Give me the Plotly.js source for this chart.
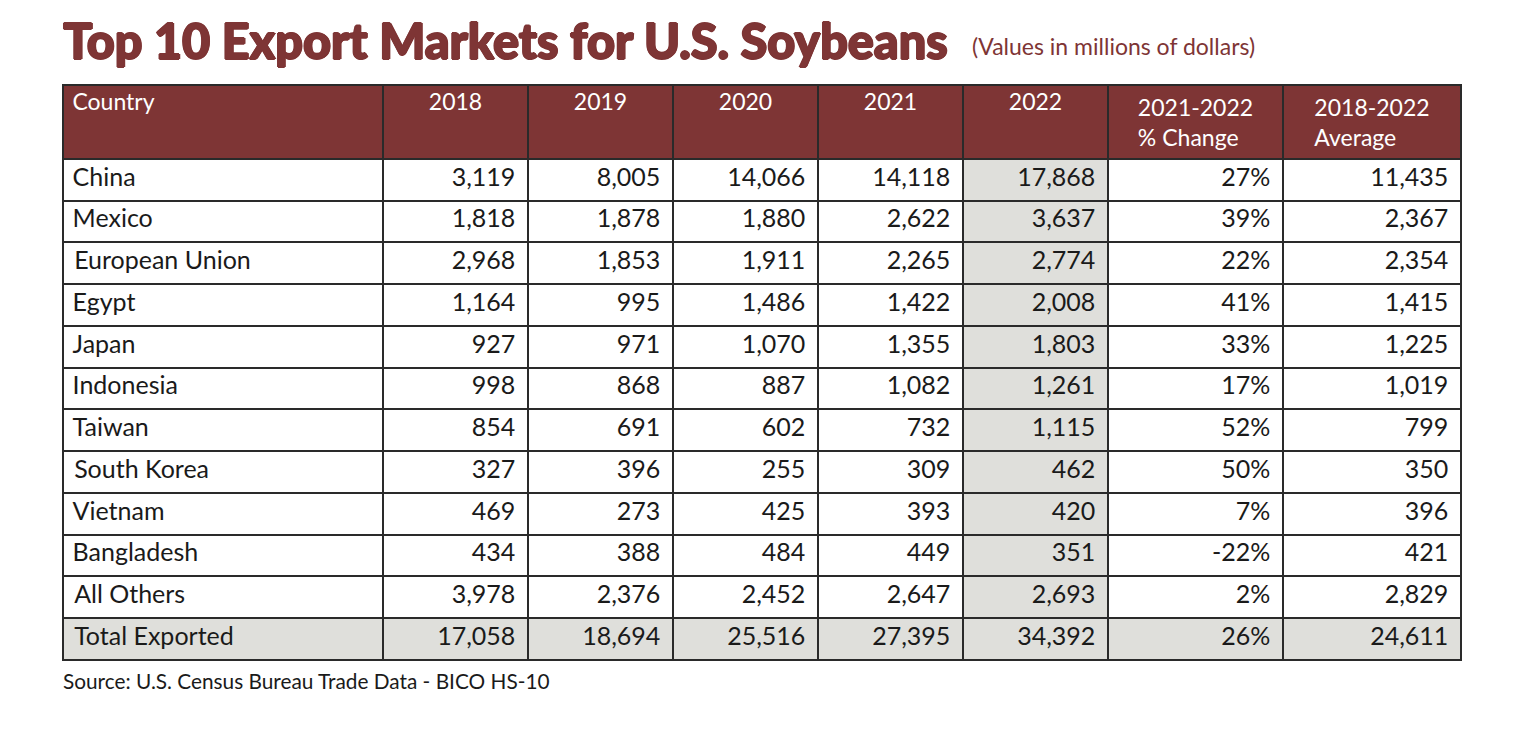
<!DOCTYPE html>
<html><head><meta charset="utf-8">
<script src="https://cdn.plot.ly/plotly-3.0.1.min.js"></script>
<style>html,body{margin:0;padding:0;background:#fff;}#chart{width:1536px;height:739px;}</style>
</head><body><div id="chart"></div>
<script>
const headers = ["Country","2018","2019","2020","2021","2022","2021-2022<br>% Change","2018-2022<br>Average"];
const countries = ["China","Mexico","European Union","Egypt","Japan","Indonesia","Taiwan","South Korea","Vietnam","Bangladesh","All Others","Total Exported"];
const v2018 = [3119,1818,2968,1164,927,998,854,327,469,434,3978,17058];
const v2019 = [8005,1878,1853,995,971,868,691,396,273,388,2376,18694];
const v2020 = [14066,1880,1911,1486,1070,887,602,255,425,484,2452,25516];
const v2021 = [14118,2622,2265,1422,1355,1082,732,309,393,449,2647,27395];
const v2022 = [17868,3637,2774,2008,1803,1261,1115,462,420,351,2693,34392];
const pctChange = [27,39,22,41,33,17,52,50,7,-22,2,26];
const avg1822 = [11435,2367,2354,1415,1225,1019,799,350,396,421,2829,24611];

const maroon = "#7E3535";
const grey = "#DFDFDB";
const n = countries.length;
function colFill(allGrey){ return countries.map((c,i)=> (allGrey || i===n-1) ? grey : "#ffffff"); }
const fills = [colFill(false),colFill(false),colFill(false),colFill(false),colFill(false),colFill(true),colFill(false),colFill(false)];

const W = 1536, H = 739;
const x0 = 63, x1 = 1461;
const colW = [320,145,145,145,145,145,175,178];
const sp = "\u2009\u200A";

const trace = {
  type: "table",
  domain: {x: [x0/W, x1/W], y: [0, 1 - 85/H]},
  columnwidth: colW,
  columnorder: [0,1,2,3,4,5,6,7],
  header: {
    values: headers,
    prefix: ["\u200A","","","","","","",""],
    align: ["left","center","center","center","center","center","center","center"],
    fill: {color: maroon},
    line: {color: "#2a2a2a", width: 2},
    font: {family: "Lato, 'Open Sans', sans-serif", size: 23, color: "#ffffff"},
    height: 72
  },
  cells: {
    values: [countries, v2018, v2019, v2020, v2021, v2022, pctChange, avg1822],
    format: ["", ",", ",", ",", ",", ",", "d", ","],
    prefix: ["\u200A","","","","","","",""],
    suffix: ["", sp, sp, sp, sp, sp, "%" + sp, sp],
    align: ["left","right","right","right","right","right","right","right"],
    fill: {color: fills},
    line: {color: "#2a2a2a", width: 2},
    font: {family: "Lato, 'Open Sans', sans-serif", size: 25, color: "#1a1a1a"},
    height: 41.75
  }
};

const sh = "0.8px 0 0 #7E3535, -0.8px 0 0 #7E3535, 0 0.8px 0 #7E3535, 0 -0.8px 0 #7E3535, 1.2px 0.4px 0 #7E3535";
const layout = {
  width: W, height: H,
  margin: {l: 0, r: 0, t: 0, b: 0},
  paper_bgcolor: "#ffffff",
  showlegend: false,
  annotations: [
    {text: "Top 10 Export Markets for U.S. Soybeans", xref: "paper", yref: "paper",
     x: 61/W, y: 1 - 40/H, xanchor: "left", yanchor: "middle", showarrow: false,
     font: {family: "Lato, 'DejaVu Sans', sans-serif", size: 48.5, color: maroon, weight: 900, shadow: sh}},
    {text: "(Values in millions of dollars)", xref: "paper", yref: "paper",
     x: 970/W, y: 1 - 46/H, xanchor: "left", yanchor: "middle", showarrow: false,
     font: {family: "Lato, sans-serif", size: 23, color: maroon}},
    {text: "Source: U.S. Census Bureau Trade Data - BICO HS-10", xref: "paper", yref: "paper",
     x: 61/W, y: 1 - 680/H, xanchor: "left", yanchor: "middle", showarrow: false,
     font: {family: "Lato, sans-serif", size: 20.8, color: "#1a1a1a"}}
  ]
};
Plotly.newPlot("chart", [trace], layout, {displayModeBar: false, staticPlot: true});
</script>
</body></html>
